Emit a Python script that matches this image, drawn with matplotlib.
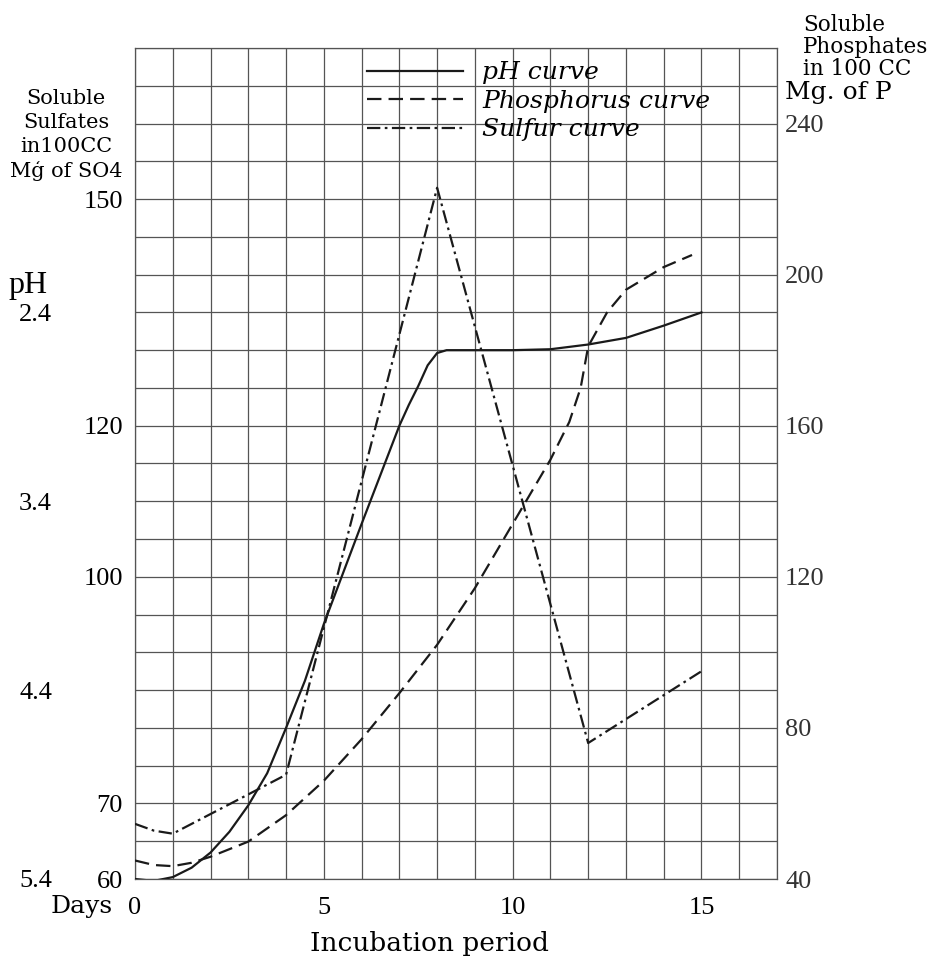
import matplotlib.pyplot as plt
import numpy as np

# incubation days and readings taken off the chart
ph_days = [0, 0.5, 1, 1.5, 2, 2.5, 3, 3.5, 4, 4.5, 5, 6, 7, 7.25, 7.5, 7.75, 8, 8.25, 9, 10, 11, 12, 13, 14, 15]
ph_vals = [5.40, 5.41, 5.39, 5.34, 5.26, 5.15, 5.01, 4.84, 4.60, 4.35, 4.05, 3.52, 3.00,
           2.89, 2.79, 2.68, 2.615, 2.60, 2.60, 2.60, 2.595, 2.57, 2.535, 2.47, 2.40]

phos_days = [0, 0.5, 1, 1.5, 2, 3, 4, 5, 6, 7, 8, 9, 10, 11, 11.5, 11.8, 12, 12.5, 13, 14, 14.75]
phos_vals = [44.9, 43.7, 43.4, 44.3, 45.9, 49.9, 56.9, 66, 77, 89.2, 102, 117, 134, 151,
             161, 170, 181, 190, 196, 202, 205.2]

sulf_days = [0, 0.5, 1, 4, 8, 12, 15]
sulf_vals = [67.3, 66.4, 66.0, 73.8, 151.5, 78.0, 87.5]

x_ticks = [0, 5, 10, 15]
sulf_ticks = [60, 70, 100, 120, 150]
phos_ticks = [40, 80, 120, 160, 200, 240]
ph_ticks = [5.4, 4.4, 3.4, 2.4]

serif = "Liberation Serif"
slab = "DejaVu Serif"
ink = "#1a1a1a"

fig = plt.figure(figsize=(9.5, 9.64), dpi=100)
ax = fig.add_axes([135 / 950, 85 / 964, 642 / 950, 831 / 964])
axp = ax.twinx()
axh = ax.twinx()

# grid: one square per day and per 5 mg of SO4
ax.set_xlim(0, 17)
ax.set_ylim(60, 170)
ax.set_xticks(x_ticks)
ax.set_xticks(np.arange(0, 18, 1), minor=True)
ax.set_yticks(sulf_ticks)
ax.set_yticks(np.arange(60, 171, 5), minor=True)
ax.grid(which="both", color="0.33", lw=0.9)
ax.set_axisbelow(True)
ax.tick_params(which="both", length=0)
ax.tick_params(axis="y", pad=8.6, labelsize=19)
ax.tick_params(axis="x", pad=13, labelsize=19)
for lab in ax.get_xticklabels() + ax.get_yticklabels():
    lab.set_family(serif)
for sp in ax.spines.values():
    sp.set_color("0.33")
    sp.set_linewidth(0.9)

axp.set_ylim(40, 260)
axp.set_yticks(phos_ticks)
axp.tick_params(length=0, pad=5.8, labelsize=19)
for lab in axp.get_yticklabels():
    lab.set_family(serif)
    lab.set_color("#333333")

axh.set_ylim(5.4, 1.0)
axh.set_yticks(ph_ticks)
axh.set_yticklabels([f"{v:.1f}" for v in ph_ticks])
axh.tick_params(axis="y", length=0, left=True, right=False, labelleft=True,
                labelright=False, pad=59.8, labelsize=19)
for lab in axh.get_yticklabels():
    lab.set_family(serif)
for a in (axp, axh):
    for sp in a.spines.values():
        sp.set_visible(False)

l_ph, = axh.plot(ph_days, ph_vals, color=ink, lw=1.6, label="pH curve")
l_p, = axp.plot(phos_days, phos_vals, color=ink, lw=1.6, dashes=(6.5, 3.2),
                label="Phosphorus curve")
l_s, = ax.plot(sulf_days, sulf_vals, color=ink, lw=1.6, dashes=(6, 2, 1.2, 2),
               label="Sulfur curve", zorder=3)

axh.legend(handles=[l_ph, l_p, l_s], loc="upper left", bbox_to_anchor=(0.346, 0.996),
           frameon=False, handlelength=3.85, handletextpad=0.76, labelspacing=0.22,
           borderaxespad=0, prop={"family": slab, "style": "italic", "size": 18})

ax.set_xlabel("Incubation period", family=slab, fontsize=19)
ax.xaxis.set_label_coords((429 - 135) / 642, -0.062)
fig.text(113 / 950, 1 - 907 / 964, "Days", ha="right", va="center",
         family=slab, fontsize=18)

for i, s in enumerate(["Soluble", "Sulfates", "in100CC", "Mģ of SO4"]):
    fig.text(66 / 950, 1 - (99 + 24 * i) / 964, s, ha="center", va="center",
             family=slab, fontsize=15)
for i, s in enumerate(["Soluble", "Phosphates", "in 100 CC"]):
    fig.text(803 / 950, 1 - (25 + 22 * i) / 964, s, ha="left", va="center",
             family=slab, fontsize=15.5)
fig.text(785 / 950, 1 - 93 / 964, "Mg. of P", ha="left", va="center",
         family=slab, fontsize=18)
fig.text(8 / 950, 1 - 285 / 964, "pH", ha="left", va="center",
         family=serif, fontsize=23)

fig.savefig("out.png", dpi=100)
